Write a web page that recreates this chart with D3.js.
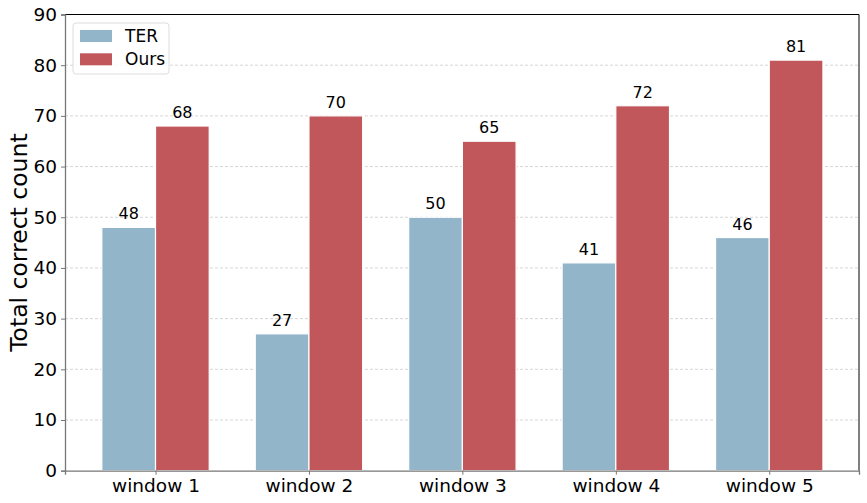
<!DOCTYPE html>
<html><head><meta charset="utf-8">
<script src="https://cdn.jsdelivr.net/npm/d3@7"></script>
<style>body{margin:0;background:#fff}svg{display:block;font-family:"DejaVu Sans",sans-serif}</style>
</head><body><svg id="c" width="867" height="503"></svg>
<script>
const categories = ["window 1","window 2","window 3","window 4","window 5"];
const seriesNames = ["TER","Ours"];
const terValues = [48,27,50,41,46];
const oursValues = [68,70,65,72,81];
const yTicks = [0,10,20,30,40,50,60,70,80,90];
const colors = ["#93b5c9","#c1575b"];

const svg = d3.select("#c");
const L=65,R=859,T=14.5,B=470.7;
const x = d3.scaleLinear().domain([-0.59,4.585]).range([L,R]);
const y = d3.scaleLinear().domain([0,90]).range([B,T]);
const bw = 0.35;

// grid
svg.append("g").selectAll("line").data(yTicks.filter(d=>d>0&&d<90)).join("line")
  .attr("x1",L).attr("x2",R).attr("y1",d=>y(d)).attr("y2",d=>y(d))
  .attr("stroke","#cccccc").attr("stroke-width",0.8).attr("stroke-dasharray","3,2");

const series=[terValues,oursValues];
series.forEach((vals,si)=>{
  const off = si===0 ? -bw : 0;
  const g = svg.append("g");
  g.selectAll("rect").data(vals).join("rect")
    .attr("x",(d,i)=>x(i+off)).attr("width",x(bw)-x(0))
    .attr("y",d=>y(d)).attr("height",d=>B-y(d))
    .attr("fill",colors[si]).attr("stroke","#fff").attr("stroke-width",1.2);
  g.selectAll("text").data(vals).join("text")
    .attr("x",(d,i)=>x(i+off+bw/2)).attr("y",d=>y(d)-8)
    .attr("text-anchor","middle").attr("font-size",16).attr("fill","#000")
    .text(d=>d);
});

// spines
svg.append("line").attr("x1",L).attr("x2",R).attr("y1",T).attr("y2",T).attr("stroke","#000").attr("stroke-width",1);
svg.append("line").attr("x1",R).attr("x2",R).attr("y1",T).attr("y2",B).attr("stroke","#000").attr("stroke-width",1);

// axes
const ya = d3.axisLeft(y).tickValues(yTicks).tickSize(4).tickPadding(4);
const yg = svg.append("g").attr("transform",`translate(${L},0)`).call(ya);
yg.select(".domain").attr("stroke","#777").attr("stroke-width",1.3);
yg.selectAll(".tick line").attr("stroke","#777");
yg.selectAll("text").attr("font-size",18.5).attr("fill","#000").attr("font-family","DejaVu Sans");

const xa = d3.axisBottom(x).tickValues(d3.range(categories.length)).tickFormat(i=>categories[i]).tickSize(4).tickPadding(4);
const xg = svg.append("g").attr("transform",`translate(0,${B})`).call(xa);
xg.select(".domain").attr("stroke","#777").attr("stroke-width",1.3);
xg.selectAll(".tick line").attr("stroke","#777");
xg.selectAll("text").attr("font-size",18.5).attr("fill","#000").attr("font-family","DejaVu Sans");

// y label
svg.append("text").attr("transform",`translate(27,${(T+B)/2}) rotate(-90)`)
  .attr("text-anchor","middle").attr("font-size",23.5).attr("fill","#000").text("Total correct count");

// legend
const lg = svg.append("g");
lg.append("rect").attr("x",73).attr("y",23).attr("width",96).attr("height",51).attr("rx",3)
  .attr("fill","#fff").attr("fill-opacity",0.8).attr("stroke","#ddd");
seriesNames.forEach((n,i)=>{
  lg.append("rect").attr("x",80).attr("y",30+i*23.3).attr("width",32).attr("height",12).attr("fill",colors[i]);
  lg.append("text").attr("x",125).attr("y",42+i*23.3).attr("font-size",17).attr("fill","#000").text(n);
});
</script></body></html>
